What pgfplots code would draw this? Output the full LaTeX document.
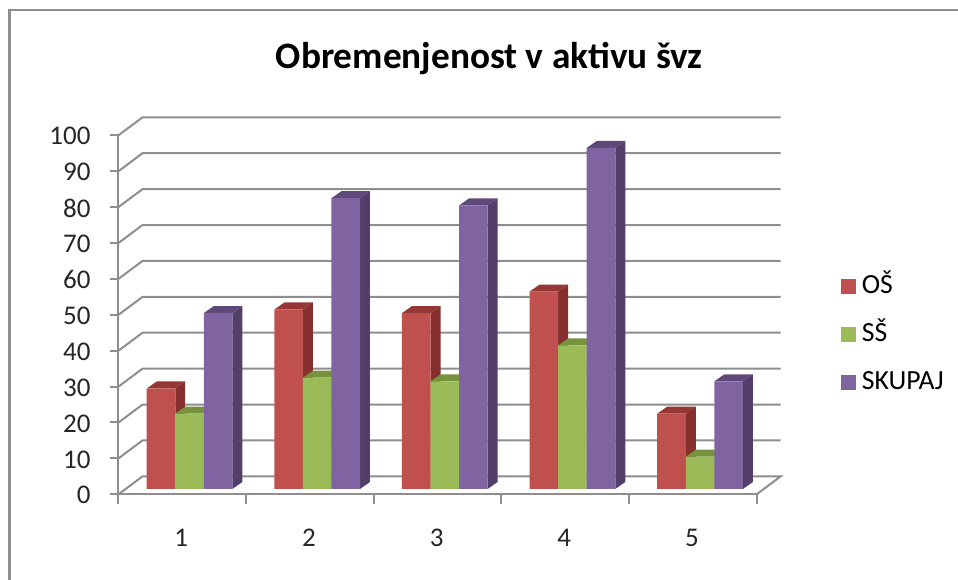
\documentclass[border=0pt]{standalone}
\usepackage{pgfplots}
\pgfplotsset{compat=1.18}
\usepackage{fontspec}
\setmainfont{Carlito}
\definecolor{cred}{HTML}{C0504D}
\definecolor{cgreen}{HTML}{9BBB59}
\definecolor{cpurple}{HTML}{8064A2}
\definecolor{credS}{HTML}{862F2D}
\definecolor{cgreenS}{HTML}{6F8A3A}
\definecolor{cpurpleS}{HTML}{523F6A}
\definecolor{credT}{HTML}{953735}
\definecolor{cgreenT}{HTML}{76923C}
\definecolor{cpurpleT}{HTML}{5F497A}
\definecolor{gridc}{HTML}{8E8E8E}
\pgfplotsset{barplane/.style={xshift=7.2pt,yshift=5.3pt}}
% one bar's side and top faces: #1 left edge offset, #2 category, #3 value, #4 side, #5 top
\newcommand\barfaces[5]{%
  \pgfmathsetmacro\xa{#2+#1}%
  \pgfmathsetmacro\xb{\xa+0.2236}%
  \pgfmathsetmacro\xc{\xb+0.0783}%
  \pgfmathsetmacro\xd{\xa+0.0783}%
  \pgfmathsetmacro\yt{#3+1.95}%
  \edef\tmp{\noexpand\addplot[barplane,forget plot,fill=#4,draw=none] coordinates {(\xb,0)(\xc,1.95)(\xc,\yt)(\xb,#3)} -- cycle;
  \noexpand\addplot[barplane,forget plot,fill=#5,draw=none] coordinates {(\xa,#3)(\xb,#3)(\xc,\yt)(\xd,\yt)} -- cycle;}\tmp}
\begin{document}
\begin{tikzpicture}
\path[use as bounding box] (0,0) rectangle (958pt,580pt);
\draw[gridc,line width=2.2pt] (9.5pt,0pt) -- (9.5pt,569.7pt) -- (958pt,569.7pt);
\begin{axis}[
  at={(118.5pt,85.7pt)}, anchor=south west,
  scale only axis, width=638.2pt, height=359pt,
  xmin=0.5, xmax=5.5, ymin=0, ymax=100,
  clip=false,
  axis x line=bottom, axis y line=left,
  axis line style={-,gridc,line width=2pt},
  ytick={0,10,...,100},
  xtick={1,2,3,4,5},
  minor xtick={0.5,1.5,2.5,3.5,4.5,5.5},
  major tick length=8.5pt,
  minor tick length=9.5pt,
  tick align=outside,
  y tick style={gridc,line width=2pt},
  major x tick style={draw=none},
  minor x tick style={gridc,line width=2pt},
  /pgf/number format/assume math mode=true,
  tick label style={font=\fontsize{27}{27}\selectfont,text=black!85},
  xticklabel style={yshift=-23pt,xshift=-1pt},
  yticklabel style={xshift=-16pt,yshift=-1pt},
  title={\fontsize{37.3}{37.3}\selectfont\bfseries Obremenjenost v aktivu švz},
  title style={at={(0.581,1.196)},anchor=center,text=black},
  legend style={at={(1.1315,0.6105)},anchor=north west,draw=none,fill=none,
    font=\fontsize{27.7}{27.7}\selectfont,row sep=26pt,inner sep=0pt,
    nodes={text height=18pt,text depth=4pt,inner ysep=0pt,inner xsep=5.5pt}},
  legend cell align=left,
  legend image code/.code={\fill[#1] (2pt,-7.5pt) rectangle (17.5pt,7.5pt);},
]
% wall and floor lines
\addplot[forget plot,gridc,line width=2pt] coordinates {(0.5,0)(0.688,5)(5.688,5)(5.5,0)};
\addplot[forget plot,gridc,line width=2pt] coordinates {(0.5,10)(0.688,15)(5.688,15)};
\addplot[forget plot,gridc,line width=2pt] coordinates {(0.5,20)(0.688,25)(5.688,25)};
\addplot[forget plot,gridc,line width=2pt] coordinates {(0.5,30)(0.688,35)(5.688,35)};
\addplot[forget plot,gridc,line width=2pt] coordinates {(0.5,40)(0.688,45)(5.688,45)};
\addplot[forget plot,gridc,line width=2pt] coordinates {(0.5,50)(0.688,55)(5.688,55)};
\addplot[forget plot,gridc,line width=2pt] coordinates {(0.5,60)(0.688,65)(5.688,65)};
\addplot[forget plot,gridc,line width=2pt] coordinates {(0.5,70)(0.688,75)(5.688,75)};
\addplot[forget plot,gridc,line width=2pt] coordinates {(0.5,80)(0.688,85)(5.688,85)};
\addplot[forget plot,gridc,line width=2pt] coordinates {(0.5,90)(0.688,95)(5.688,95)};
\addplot[forget plot,gridc,line width=2pt] coordinates {(0.5,100)(0.688,105)(5.688,105)};
% OŠ
\foreach \c/\v in {1/28,2/50,3/49,4/55,5/21}{\barfaces{-0.3354}{\c}{\v}{credS}{credT}}
\addplot[ybar,barplane,forget plot,bar width=28.6pt,bar shift=-28.55pt,fill=cred,draw=none]
  coordinates {(1,28)(2,50)(3,49)(4,55)(5,21)};
% SŠ
\foreach \c/\v in {1/21,2/31,3/30,4/40,5/9}{\barfaces{-0.1118}{\c}{\v}{cgreenS}{cgreenT}}
\addplot[ybar,barplane,forget plot,bar width=28.6pt,bar shift=0pt,fill=cgreen,draw=none]
  coordinates {(1,21)(2,31)(3,30)(4,40)(5,9)};
% SKUPAJ
\foreach \c/\v in {1/49,2/81,3/79,4/95,5/30}{\barfaces{0.1118}{\c}{\v}{cpurpleS}{cpurpleT}}
\addplot[ybar,barplane,forget plot,bar width=28.6pt,bar shift=28.55pt,fill=cpurple,draw=none]
  coordinates {(1,49)(2,81)(3,79)(4,95)(5,30)};
\addlegendimage{fill=cred,draw=none}
\addlegendentry{OŠ}
\addlegendimage{fill=cgreen,draw=none}
\addlegendentry{SŠ}
\addlegendimage{fill=cpurple,draw=none}
\addlegendentry{SKUPAJ}
\end{axis}
\end{tikzpicture}
\end{document}
